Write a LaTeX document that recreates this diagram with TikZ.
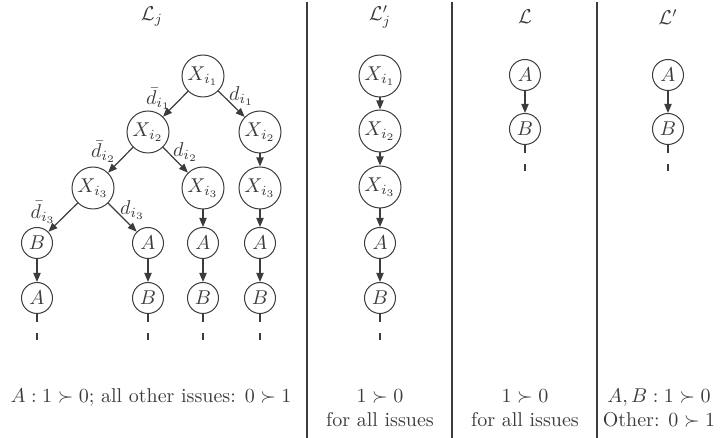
\documentclass[tikz,border=0pt]{standalone}
\usetikzlibrary{arrows.meta}
\definecolor{ink}{HTML}{3C3C3C}
\begin{document}
\begin{tikzpicture}[x=0.5pt,y=-0.5pt,
  big/.style={circle,draw=ink,line width=0.5pt,minimum size=21pt,inner sep=0pt,text=ink},
  small/.style={circle,draw=ink,line width=0.5pt,minimum size=15.5pt,inner sep=0pt,text=ink},
  arr/.style={draw=ink,line width=0.6pt,-{Triangle[length=4.5pt,width=3.6pt]}},
  tail/.style={draw=ink,line width=0.6pt,dash pattern=on 4pt off 5.5pt on 3.5pt off 30pt},
  sepline/.style={draw=ink,line width=1.3pt},
  lab/.style={text=ink,inner sep=0.5pt,pos=0.5,anchor=center},
  llab/.style={lab,xshift=-8.5pt,yshift=2.5pt},
  rlab/.style={lab,xshift=5pt,yshift=3.75pt},
  txt/.style={text=ink,align=center}]
\useasboundingbox (0,0) rectangle (720,438);
% separators
\draw[sepline] (307,2) -- (307,438);
\draw[sepline] (452,2) -- (452,438);
\draw[sepline] (597,2) -- (597,438);
% titles
\node[txt] (t1) at (152,17) {$\mathcal{L}_j$};
\node[txt] (t2) at (380,17) {$\mathcal{L}'_j$};
\node[txt] (t3) at (525,17) {$\mathcal{L}$};
\node[txt] (t4) at (668,17) {$\mathcal{L}'$};
% tree
\node[big] (x1) at (203,76) {$X_{i_1}$};
\node[big] (x2a) at (148,132) {$X_{i_2}$};
\node[big] (x2b) at (260,132) {$X_{i_2}$};
\node[big] (x3a) at (93,188) {$X_{i_3}$};
\node[big] (x3b) at (203,188) {$X_{i_3}$};
\node[big] (x3c) at (260,188) {$X_{i_3}$};
\node[small] (b1) at (37,243) {$B$};
\node[small] (a1) at (37,298) {$A$};
\node[small] (a2) at (148,243) {$A$};
\node[small] (b2) at (148,298) {$B$};
\node[small] (a3) at (203,243) {$A$};
\node[small] (b3) at (203,298) {$B$};
\node[small] (a4) at (260,243) {$A$};
\node[small] (b4) at (260,298) {$B$};
\draw[arr] (x1) -- node[llab] {$\bar d_{i_1}$} (x2a);
\draw[arr] (x1) -- node[rlab] {$d_{i_1}$} (x2b);
\draw[arr] (x2a) -- node[llab,yshift=1.5pt] {$\bar d_{i_2}$} (x3a);
\draw[arr] (x2a) -- node[rlab] {$d_{i_2}$} (x3b);
\draw[arr] (x3a) -- node[llab,xshift=-1.5pt] {$\bar d_{i_3}$} (b1);
\draw[arr] (x3a) -- node[rlab] {$d_{i_3}$} (a2);
\draw[arr] (x2b) -- (x3c);
\draw[arr] (x3b) -- (a3);
\draw[arr] (x3c) -- (a4);
\draw[arr] (b1) -- (a1);
\draw[arr] (a2) -- (b2);
\draw[arr] (a3) -- (b3);
\draw[arr] (a4) -- (b4);
\coordinate (e1) at (37,340);
\coordinate (e2) at (148,340);
\coordinate (e3) at (203,340);
\coordinate (e4) at (260,340);
\draw[tail] (a1) -- (e1);
\draw[tail] (b2) -- (e2);
\draw[tail] (b3) -- (e3);
\draw[tail] (b4) -- (e4);
% L'_j column
\node[big] (y1) at (380,76) {$X_{i_1}$};
\node[big] (y2) at (380,131) {$X_{i_2}$};
\node[big] (y3) at (380,187) {$X_{i_3}$};
\node[small] (ya) at (380,243) {$A$};
\node[small] (yb) at (380,298) {$B$};
\coordinate (ye) at (380,340);
\draw[arr] (y1) -- (y2);
\draw[arr] (y2) -- (y3);
\draw[arr] (y3) -- (ya);
\draw[arr] (ya) -- (yb);
\draw[tail] (yb) -- (ye);
% L column
\node[small] (za) at (525,75) {$A$};
\node[small] (zb) at (525,129) {$B$};
\coordinate (ze) at (525,171);
\draw[arr] (za) -- (zb);
\draw[tail] (zb) -- (ze);
% L' column
\node[small] (wa) at (668,75) {$A$};
\node[small] (wb) at (668,129) {$B$};
\coordinate (we) at (668,171);
\draw[arr] (wa) -- (wb);
\draw[tail] (wb) -- (we);
% bottom texts
\node[txt] (c1) at (151,397) {$A:1\succ 0$; all other issues: $0\succ 1$};
\node[txt] (c2) at (380,408) {$1\succ 0$\\for all issues};
\node[txt] (c3) at (525,408) {$1\succ 0$\\for all issues};
\node[txt] (c4) at (659,408) {$A, B:1\succ 0$\\Other: $0\succ 1$};
\end{tikzpicture}
\end{document}
